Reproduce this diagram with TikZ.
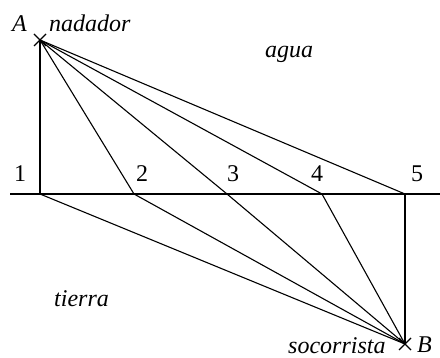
\documentclass[tikz,border=0pt]{standalone}
\usepackage{fontspec}
\setmainfont{Liberation Serif}
\begin{document}
\begin{tikzpicture}[x=1pt, y=-1pt,
		every node/.style={font=\fontsize{24}{26}\selectfont, inner sep=0pt, anchor=base west},
		lbl/.style={font=\fontsize{24}{26}\selectfont\itshape},
		ray/.style={line width=1.1pt},
		shore/.style={line width=2pt}
	]
		\useasboundingbox (0,0) rectangle (440,358);
		% swimmer, lifeguard and the points on the shore
		\coordinate (A) at (40,40);
		\coordinate (B) at (405,344);
		\coordinate (p1) at (40,194);
		\coordinate (p2) at (134,194);
		\coordinate (p3) at (227,194);
		\coordinate (p4) at (322,194);
		\coordinate (p5) at (405,194);
		\coordinate (west) at (10,194);
		\coordinate (east) at (440,194);
		
		\draw[shore] (west) -- (east);
		\foreach \i in {1,...,5} {
			\draw[ray] (A) -- (p\i);
			\draw[ray] (p\i) -- (B);
		}
		
		% crosses
		\draw[ray] ([shift={(-6,-6)}]A) -- ([shift={(6,6)}]A);
		\draw[ray] ([shift={(-6,6)}]A) -- ([shift={(6,-6)}]A);
		\draw[ray] ([shift={(-6,-6)}]B) -- ([shift={(6,6)}]B);
		\draw[ray] ([shift={(-6,6)}]B) -- ([shift={(6,-6)}]B);
		
		% labels
		\node[lbl] (lA) at (12,32) {A};
		\node[lbl] (swimmer) at (49,32) {nadador};
		\node[lbl] (water) at (265,58) {agua};
		\node[lbl] (land) at (54,307) {tierra};
		\node[lbl] (guard) at (288,354) {socorrista};
		\node[lbl] (lB) at (417,353) {B};
		\node (n1) at (14,182) {1};
		\node (n2) at (136,182) {2};
		\node (n3) at (227,182) {3};
		\node (n4) at (311,182) {4};
		\node (n5) at (411,182) {5};
	\end{tikzpicture}
\end{document}
